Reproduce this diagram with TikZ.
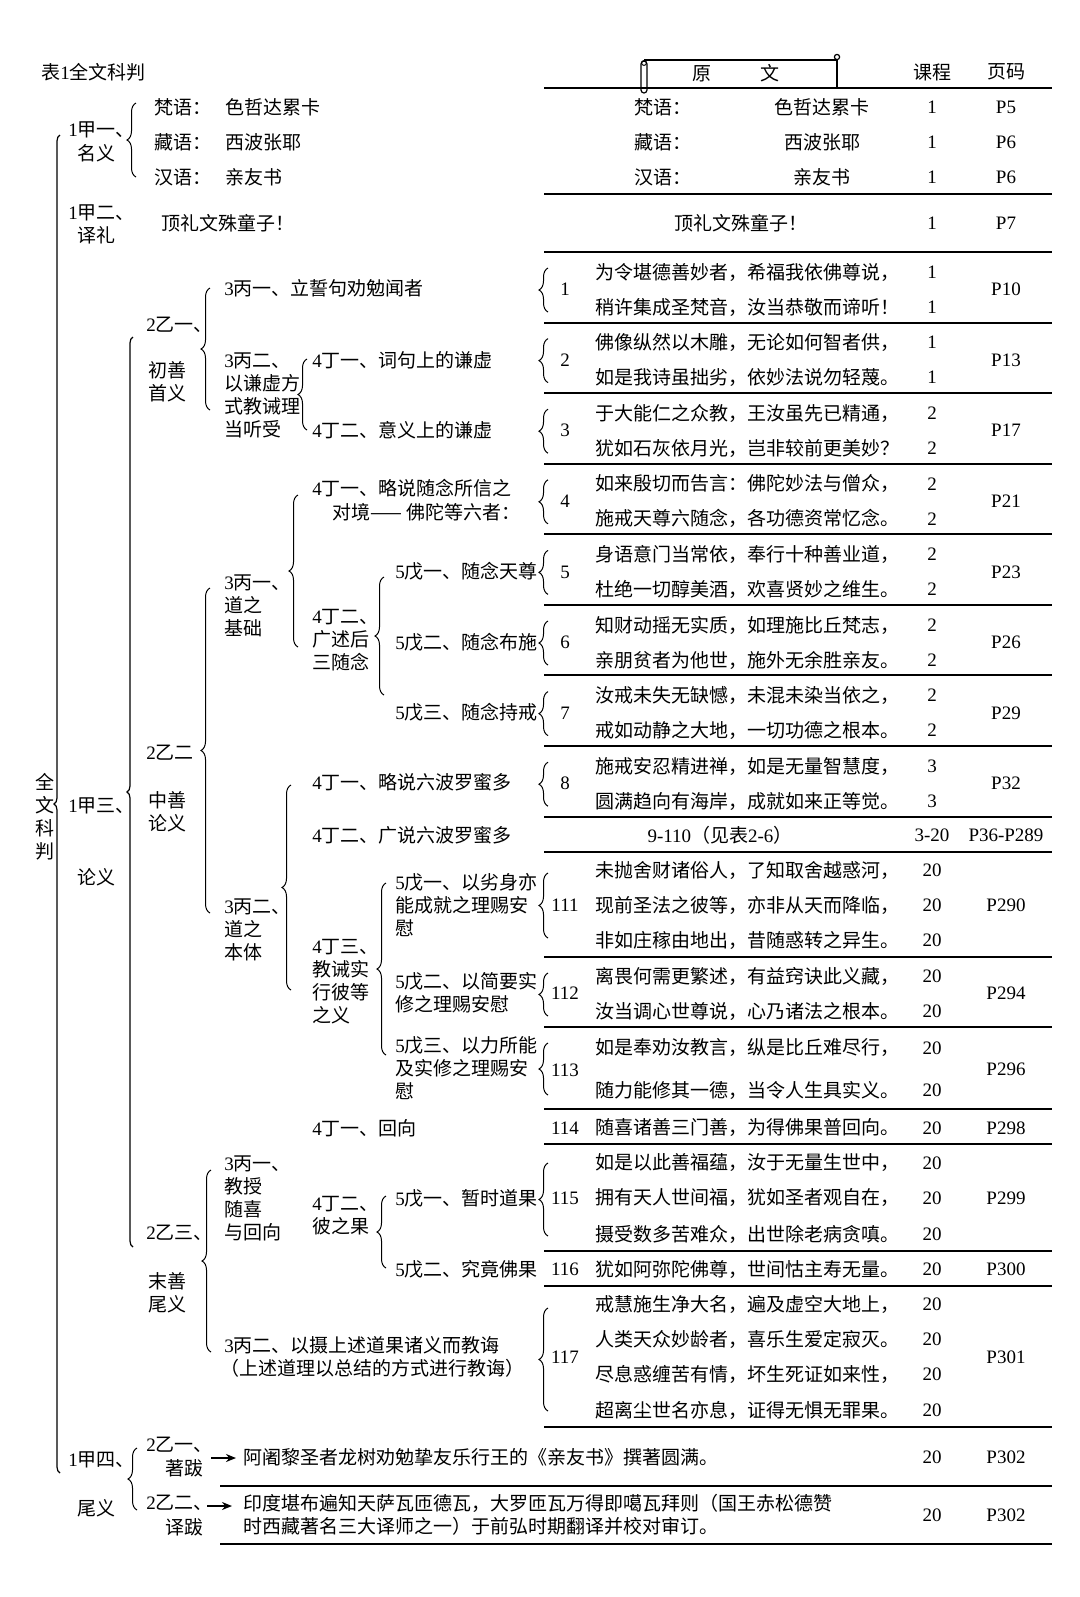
\documentclass[tikz,border=0pt]{standalone}
\usepackage{fontspec}
\setmainfont{Liberation Serif}
\newfontfamily\cjk{Noto Sans CJK SC}
\usetikzlibrary{decorations.pathreplacing, arrows.meta}
% Chinese characters in the CJK font, digits in the serif
\XeTeXinterchartokenstate=1
\newXeTeXintercharclass\hanclass
\newcount\hanc
\hanc="4E00
\loop\XeTeXcharclass\hanc=\hanclass\advance\hanc by 1 \ifnum\hanc<"A000\repeat
\hanc="3000
\loop\XeTeXcharclass\hanc=\hanclass\advance\hanc by 1 \ifnum\hanc<"3040\repeat
\hanc="FF00
\loop\XeTeXcharclass\hanc=\hanclass\advance\hanc by 1 \ifnum\hanc<"FF60\repeat
\XeTeXcharclass"2014=\hanclass
\XeTeXinterchartoks 0 \hanclass = {\cjk}
\XeTeXinterchartoks 4095 \hanclass = {\cjk}
\XeTeXinterchartoks \hanclass 0 = {\rmfamily}
\XeTeXinterchartoks 4095 0 = {\rmfamily}

\begin{document}
\begin{tikzpicture}[x=0.5pt,y=-0.5pt,
  font=\fontsize{9.5pt}{11.5pt}\selectfont,
  lbl/.style={inner sep=0pt,anchor=west},
  mid/.style={inner sep=0pt},
  blk/.style={inner sep=0pt,anchor=west,align=left},
  rule/.style={line width=0.9pt},
  brc/.style={line width=0.5pt,decorate,decoration={brace,amplitude=4.5pt}},
  longbrc/.style={line width=0.6pt,decorate,decoration={brace,amplitude=3pt}},
  arr/.style={line width=0.8pt,-{Stealth[length=5pt,width=4pt]}}]
  \fill[white] (0,0) rectangle (1080,1597);
  \useasboundingbox (0,0) rectangle (1080,1597);

  % heading
  \node[lbl] (title) at (41,72) {表1全文科判};
  \draw[line width=0.6pt] (644,60) -- (837,60) -- (837,88);
  \draw[line width=0.6pt] (837,57) circle (1.3pt);
  \draw[line width=0.6pt,fill=white,rounded corners=1.5pt] (641,61) rectangle (647,93);
  \draw[line width=0.5pt] (644,63) circle (1.2pt);
  \node[mid] (yuanwen) at (736,73) {原\hspace{24.5pt}文};
  \node[mid] (kecheng) at (932,72) {课程};
  \node[mid] (yema) at (1006,72) {页码};
  \foreach \y in {88,194,252,323,393,464,534,605,675,746,817,852,957,1027,1109,1144,1251,1286,1427}
    \draw[rule] (544,\y) -- (1052,\y);
  \foreach \y in {1486,1544}
    \draw[rule] (220,\y) -- (1052,\y);

  % outline tree
  \draw[longbrc] (60,1473) -- (60,135);
  \node[blk,align=center,anchor=center] (quanwen) at (45,817) {全\\文\\科\\判};

  \node[lbl] (jia1) at (68,130) {1甲一、};
  \node[mid] (jia1n) at (96,153) {名义};
  \draw[brc] (136,177) -- (136,103);
  \node[lbl] (fan) at (154,107) {梵语：};
  \node[lbl] (fanv) at (225,107) {色哲达累卡};
  \node[lbl] (zang) at (154,142) {藏语：};
  \node[lbl] (zangv) at (225,142) {西波张耶};
  \node[lbl] (han) at (154,177) {汉语：};
  \node[lbl] (hanv) at (225,177) {亲友书};

  \node[lbl] (jia2) at (68,213) {1甲二、};
  \node[mid] (jia2n) at (96,235) {译礼};
  \node[lbl] (dingli) at (161,223) {顶礼文殊童子！};

  \node[lbl] (jia3) at (68,806) {1甲三、};
  \node[mid] (jia3n) at (96,877) {论义};
  \draw[longbrc] (133,1247) -- (133,337);

  \node[lbl] (yi1) at (146,325) {2乙一、};
  \node[blk] (yi1n) at (148,381.5) {初善\\首义};
  \draw[brc] (210,410) -- (210,288);
  \node[lbl] (bing11) at (224,288) {3丙一、立誓句劝勉闻者};
  \node[blk] (bing12) at (224,395) {3丙二、\\以谦虚方\\式教诫理\\当听受};
  \draw[brc] (307,430) -- (307,359);
  \node[lbl] (ding121) at (312,360) {4丁一、词句上的谦虚};
  \node[lbl] (ding122) at (312,430) {4丁二、意义上的谦虚};

  \node[lbl] (yi2) at (146,753) {2乙二};
  \node[blk] (yi2n) at (148,811.5) {中善\\论义};
  \draw[brc] (210,913) -- (210,588);
  \node[blk] (bing21) at (224,606) {3丙一、\\道之\\基础};
  \draw[brc] (298,647) -- (298,495);
  \node[lbl] (ding211) at (312,488) {4丁一、略说随念所信之};
  \node[lbl] (ding211b) at (332,512) {对境—— 佛陀等六者：};
  \node[blk] (ding212) at (312,640) {4丁二、\\广述后\\三随念};
  \draw[brc] (384,695) -- (384,577);
  \node[lbl] (wu2121) at (395,571) {5戊一、随念天尊};
  \node[lbl] (wu2122) at (395,642) {5戊二、随念布施};
  \node[lbl] (wu2123) at (395,712) {5戊三、随念持戒};
  \node[blk] (bing22) at (224,930) {3丙二、\\道之\\本体};
  \draw[brc] (291,990) -- (291,785);
  \node[lbl] (ding221) at (312,782) {4丁一、略说六波罗蜜多};
  \node[lbl] (ding222) at (312,835) {4丁二、广说六波罗蜜多};
  \node[blk] (ding223) at (312,982) {4丁三、\\教诫实\\行彼等\\之义};
  \draw[brc] (386,1055) -- (386,883);
  \node[blk] (wu2231) at (395,905.5) {5戊一、以劣身亦\\能成就之理赐安\\慰};
  \node[blk] (wu2232) at (395,992.5) {5戊二、以简要实\\修之理赐安慰};
  \node[blk] (wu2233) at (395,1068.5) {5戊三、以力所能\\及实修之理赐安\\慰};

  \node[lbl] (ding311) at (312,1128) {4丁一、回向};
  \node[lbl] (yi3) at (146,1233) {2乙三、};
  \node[blk] (yi3n) at (148,1292.5) {末善\\尾义};
  \draw[brc] (211,1352) -- (211,1170);
  \node[blk] (bing31) at (224,1198) {3丙一、\\教授\\随喜\\与回向};
  \node[blk] (ding312) at (312,1216) {4丁二、\\彼之果};
  \draw[brc] (386,1268) -- (386,1196);
  \node[lbl] (wu3121) at (395,1198) {5戊一、暂时道果};
  \node[lbl] (wu3122) at (395,1269) {5戊二、究竟佛果};
  \node[lbl] (bing32) at (224,1345) {3丙二、以摄上述道果诸义而教诲};
  \node[lbl] (bing32b) at (220,1368) {（上述道理以总结的方式进行教诲）};

  \node[lbl] (jia4) at (68,1460) {1甲四、};
  \node[mid] (jia4n) at (96,1508) {尾义};
  \draw[brc] (137,1510) -- (137,1448);
  \node[lbl] (ba1) at (146,1445) {2乙一、};
  \node[mid] (ba1n) at (184,1468) {著跋};
  \node[lbl] (ba2) at (146,1503) {2乙二、};
  \node[mid] (ba2n) at (184,1527) {译跋};
  \coordinate (ar1) at (211,1458);
  \coordinate (ar2) at (207,1506);
  \node[lbl] (zhuba) at (243,1457) {阿阇黎圣者龙树劝勉挚友乐行王的《亲友书》撰著圆满。};
  \node[blk] (yiba) at (243,1515) {印度堪布遍知天萨瓦匝德瓦，大罗匝瓦万得即噶瓦拜则（国王赤松德赞\\时西藏著名三大译师之一）于前弘时期翻译并校对审订。};
  \draw[arr,shorten >=3.5pt] (ar1) -- (ar1 -| zhuba.west);
  \draw[arr,shorten >=5.5pt] (ar2) -- (ar2 -| yiba.west);
  \node[mid] (cz) at (932,1457) {20};
  \node[mid] (pz) at (1006,1457) {P302};
  \node[mid] (cy) at (932,1515) {20};
  \node[mid] (py) at (1006,1515) {P302};

  % source text rows
  \foreach \y/\a/\b/\pg in {107/梵语：/色哲达累卡/P5, 142/藏语：/西波张耶/P6, 177/汉语：/亲友书/P6}{
    \node[lbl] (t\y) at (634,\y) {\a};
    \node[mid] (tv\y) at (822,\y) {\b};
    \node[mid] (tc\y) at (932,\y) {1};
    \node[mid] (tp\y) at (1006,\y) {\pg};
  }
  \node[mid] (tding) at (741,223) {顶礼文殊童子！};
  \node[mid] (tdingc) at (932,223) {1};
  \node[mid] (tdingp) at (1006,223) {P7};

  \foreach \i/\la/\lb/\c/\pg in {
    1/为令堪德善妙者，希福我依佛尊说，/稍许集成圣梵音，汝当恭敬而谛听！/1/P10,
    2/佛像纵然以木雕，无论如何智者供，/如是我诗虽拙劣，依妙法说勿轻蔑。/1/P13,
    3/于大能仁之众教，王汝虽先已精通，/犹如石灰依月光，岂非较前更美妙？/2/P17,
    4/如来殷切而告言：佛陀妙法与僧众，/施戒天尊六随念，各功德资常忆念。/2/P21,
    5/身语意门当常依，奉行十种善业道，/杜绝一切醇美酒，欢喜贤妙之维生。/2/P23,
    6/知财动摇无实质，如理施比丘梵志，/亲朋贫者为他世，施外无余胜亲友。/2/P26,
    7/汝戒未失无缺憾，未混未染当依之，/戒如动静之大地，一切功德之根本。/2/P29,
    8/施戒安忍精进禅，如是无量智慧度，/圆满趋向有海岸，成就如来正等觉。/3/P32}{
    \pgfmathsetmacro\r{252+70.6*(\i-1)}
    \draw[brc] (548,\r+60) -- (548,\r+16);
    \node[mid] (n\i) at (565,\r+37.5) {\i};
    \node[lbl] (va\i) at (595,\r+20) {\la};
    \node[lbl] (vb\i) at (595,\r+55) {\lb};
    \node[mid] (ca\i) at (932,\r+20) {\c};
    \node[mid] (cb\i) at (932,\r+55) {\c};
    \node[mid] (p\i) at (1006,\r+37.5) {\pg};
  }

  \node[mid] (n9) at (720,835) {9-110（见表2-6）};
  \node[mid] (c9) at (932,835) {3-20};
  \node[mid] (p9) at (1006,835) {P36-P289};

  % 111
  \draw[brc] (548,938) -- (548,873);
  \node[mid] (n111) at (565,905) {111};
  \foreach \y/\t in {870/未抛舍财诸俗人，了知取舍越惑河，, 905/现前圣法之彼等，亦非从天而降临，, 940/非如庄稼由地出，昔随惑转之异生。}{
    \node[lbl] (v\y) at (595,\y) {\t};
    \node[mid] (c\y) at (932,\y) {20};
  }
  \node[mid] (p111) at (1006,905) {P290};
  % 112
  \draw[brc] (548,1016) -- (548,973);
  \node[mid] (n112) at (565,993) {112};
  \foreach \y/\t in {976/离畏何需更繁述，有益窍诀此义藏，, 1011/汝当调心世尊说，心乃诸法之根本。}{
    \node[lbl] (v\y) at (595,\y) {\t};
    \node[mid] (c\y) at (932,\y) {20};
  }
  \node[mid] (p112) at (1006,993) {P294};
  % 113
  \draw[brc] (548,1095) -- (548,1043);
  \node[mid] (n113) at (565,1070) {113};
  \foreach \y/\t in {1048/如是奉劝汝教言，纵是比丘难尽行，, 1090/随力能修其一德，当令人生具实义。}{
    \node[lbl] (v\y) at (595,\y) {\t};
    \node[mid] (c\y) at (932,\y) {20};
  }
  \node[mid] (p113) at (1006,1069) {P296};
  % 114
  \node[mid] (n114) at (565,1128) {114};
  \node[lbl] (v1128) at (595,1128) {随喜诸善三门善，为得佛果普回向。};
  \node[mid] (c1128) at (932,1128) {20};
  \node[mid] (p114) at (1006,1128) {P298};
  % 115
  \draw[brc] (548,1236) -- (548,1163);
  \node[mid] (n115) at (565,1198) {115};
  \foreach \y/\t in {1163/如是以此善福蕴，汝于无量生世中，, 1198/拥有天人世间福，犹如圣者观自在，, 1234/摄受数多苦难众，出世除老病贪嗔。}{
    \node[lbl] (v\y) at (595,\y) {\t};
    \node[mid] (c\y) at (932,\y) {20};
  }
  \node[mid] (p115) at (1006,1198) {P299};
  % 116
  \node[mid] (n116) at (565,1269) {116};
  \node[lbl] (v1269) at (595,1269) {犹如阿弥陀佛尊，世间怙主寿无量。};
  \node[mid] (c1269) at (932,1269) {20};
  \node[mid] (p116) at (1006,1269) {P300};
  % 117
  \draw[brc] (548,1411) -- (548,1308);
  \node[mid] (n117) at (565,1357) {117};
  \foreach \y/\t in {1304/戒慧施生净大名，遍及虚空大地上，, 1339/人类天众妙龄者，喜乐生爱定寂灭。, 1374/尽息惑缠苦有情，坏生死证如来性，, 1410/超离尘世名亦息，证得无惧无罪果。}{
    \node[lbl] (v\y) at (595,\y) {\t};
    \node[mid] (c\y) at (932,\y) {20};
  }
  \node[mid] (p117) at (1006,1357) {P301};
\end{tikzpicture}
\end{document}
